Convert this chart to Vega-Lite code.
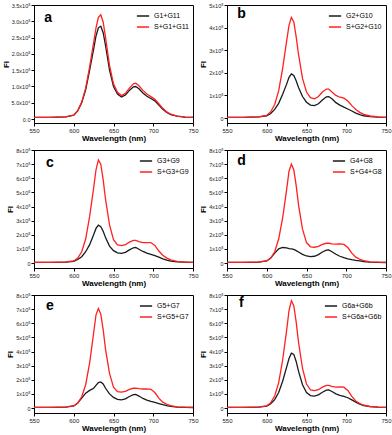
{
"$schema":"https://vega.github.io/schema/vega-lite/v6.json",
"padding":{"left":1,"top":2,"right":0,"bottom":0},
"background":"white",
"datasets":{"d":[
{"p":"a","wl":550,"k":5000,"r":5000},{"p":"a","wl":570,"k":5000,"r":5000},{"p":"a","wl":590,"k":7000,"r":7000},{"p":"a","wl":600,"k":12000,"r":12000},{"p":"a","wl":605,"k":25000,"r":26000},{"p":"a","wl":610,"k":50000,"r":52000},{"p":"a","wl":615,"k":90000,"r":95000},{"p":"a","wl":620,"k":150000,"r":160000},{"p":"a","wl":625,"k":215000,"r":235000},{"p":"a","wl":628,"k":255000,"r":280000},{"p":"a","wl":631,"k":280000,"r":312000},{"p":"a","wl":634,"k":285000,"r":320000},{"p":"a","wl":637,"k":265000,"r":298000},{"p":"a","wl":640,"k":225000,"r":250000},{"p":"a","wl":645,"k":150000,"r":165000},{"p":"a","wl":650,"k":100000,"r":108000},{"p":"a","wl":655,"k":77000,"r":82000},{"p":"a","wl":660,"k":68000,"r":72000},{"p":"a","wl":665,"k":74000,"r":79000},{"p":"a","wl":670,"k":88000,"r":95000},{"p":"a","wl":675,"k":99000,"r":108000},{"p":"a","wl":678,"k":100000,"r":110000},{"p":"a","wl":682,"k":93000,"r":102000},{"p":"a","wl":687,"k":80000,"r":88000},{"p":"a","wl":692,"k":70000,"r":77000},{"p":"a","wl":697,"k":63000,"r":69000},{"p":"a","wl":702,"k":56000,"r":61000},{"p":"a","wl":707,"k":43000,"r":47000},{"p":"a","wl":712,"k":30000,"r":33000},{"p":"a","wl":717,"k":20000,"r":22000},{"p":"a","wl":722,"k":14000,"r":15000},{"p":"a","wl":730,"k":9000,"r":9000},{"p":"a","wl":740,"k":6000,"r":6000},{"p":"a","wl":750,"k":5000,"r":5000},
{"p":"b","wl":550,"k":3000,"r":3000},{"p":"b","wl":570,"k":3000,"r":3000},{"p":"b","wl":590,"k":5000,"r":5000},{"p":"b","wl":600,"k":10000,"r":12000},{"p":"b","wl":605,"k":20000,"r":28000},{"p":"b","wl":610,"k":38000,"r":60000},{"p":"b","wl":615,"k":65000,"r":120000},{"p":"b","wl":620,"k":105000,"r":220000},{"p":"b","wl":625,"k":150000,"r":340000},{"p":"b","wl":628,"k":180000,"r":410000},{"p":"b","wl":631,"k":195000,"r":445000},{"p":"b","wl":634,"k":188000,"r":425000},{"p":"b","wl":637,"k":165000,"r":360000},{"p":"b","wl":640,"k":135000,"r":280000},{"p":"b","wl":645,"k":95000,"r":175000},{"p":"b","wl":650,"k":70000,"r":115000},{"p":"b","wl":655,"k":57000,"r":90000},{"p":"b","wl":660,"k":55000,"r":85000},{"p":"b","wl":665,"k":63000,"r":95000},{"p":"b","wl":670,"k":80000,"r":115000},{"p":"b","wl":675,"k":94000,"r":128000},{"p":"b","wl":678,"k":95000,"r":128000},{"p":"b","wl":682,"k":85000,"r":115000},{"p":"b","wl":687,"k":68000,"r":100000},{"p":"b","wl":692,"k":57000,"r":92000},{"p":"b","wl":697,"k":48000,"r":88000},{"p":"b","wl":702,"k":40000,"r":75000},{"p":"b","wl":707,"k":31000,"r":55000},{"p":"b","wl":712,"k":22000,"r":38000},{"p":"b","wl":717,"k":15000,"r":25000},{"p":"b","wl":722,"k":10000,"r":16000},{"p":"b","wl":730,"k":6000,"r":9000},{"p":"b","wl":740,"k":4000,"r":5000},{"p":"b","wl":750,"k":3000,"r":3000},
{"p":"c","wl":550,"k":5000,"r":5000},{"p":"c","wl":570,"k":5000,"r":5000},{"p":"c","wl":590,"k":7000,"r":8000},{"p":"c","wl":600,"k":12000,"r":15000},{"p":"c","wl":605,"k":25000,"r":35000},{"p":"c","wl":610,"k":45000,"r":80000},{"p":"c","wl":615,"k":80000,"r":170000},{"p":"c","wl":620,"k":130000,"r":330000},{"p":"c","wl":625,"k":200000,"r":530000},{"p":"c","wl":628,"k":245000,"r":660000},{"p":"c","wl":631,"k":268000,"r":730000},{"p":"c","wl":634,"k":258000,"r":700000},{"p":"c","wl":637,"k":225000,"r":590000},{"p":"c","wl":640,"k":180000,"r":450000},{"p":"c","wl":645,"k":120000,"r":270000},{"p":"c","wl":650,"k":88000,"r":165000},{"p":"c","wl":655,"k":72000,"r":128000},{"p":"c","wl":660,"k":68000,"r":123000},{"p":"c","wl":665,"k":76000,"r":130000},{"p":"c","wl":670,"k":93000,"r":148000},{"p":"c","wl":675,"k":108000,"r":160000},{"p":"c","wl":678,"k":110000,"r":160000},{"p":"c","wl":682,"k":98000,"r":152000},{"p":"c","wl":687,"k":82000,"r":145000},{"p":"c","wl":692,"k":70000,"r":145000},{"p":"c","wl":697,"k":62000,"r":145000},{"p":"c","wl":702,"k":53000,"r":125000},{"p":"c","wl":707,"k":42000,"r":85000},{"p":"c","wl":712,"k":30000,"r":55000},{"p":"c","wl":717,"k":20000,"r":35000},{"p":"c","wl":722,"k":13000,"r":22000},{"p":"c","wl":730,"k":8000,"r":12000},{"p":"c","wl":740,"k":6000,"r":7000},{"p":"c","wl":750,"k":5000,"r":5000},
{"p":"d","wl":550,"k":5000,"r":5000},{"p":"d","wl":570,"k":5000,"r":5000},{"p":"d","wl":590,"k":7000,"r":8000},{"p":"d","wl":600,"k":15000,"r":15000},{"p":"d","wl":605,"k":35000,"r":35000},{"p":"d","wl":610,"k":70000,"r":80000},{"p":"d","wl":615,"k":100000,"r":170000},{"p":"d","wl":620,"k":110000,"r":320000},{"p":"d","wl":625,"k":108000,"r":520000},{"p":"d","wl":628,"k":102000,"r":650000},{"p":"d","wl":631,"k":100000,"r":700000},{"p":"d","wl":634,"k":96000,"r":660000},{"p":"d","wl":637,"k":88000,"r":550000},{"p":"d","wl":640,"k":78000,"r":410000},{"p":"d","wl":645,"k":62000,"r":240000},{"p":"d","wl":650,"k":50000,"r":145000},{"p":"d","wl":655,"k":45000,"r":115000},{"p":"d","wl":660,"k":48000,"r":112000},{"p":"d","wl":665,"k":60000,"r":118000},{"p":"d","wl":670,"k":78000,"r":132000},{"p":"d","wl":675,"k":92000,"r":140000},{"p":"d","wl":678,"k":93000,"r":140000},{"p":"d","wl":682,"k":80000,"r":136000},{"p":"d","wl":687,"k":62000,"r":134000},{"p":"d","wl":692,"k":48000,"r":135000},{"p":"d","wl":697,"k":38000,"r":132000},{"p":"d","wl":702,"k":30000,"r":110000},{"p":"d","wl":707,"k":24000,"r":70000},{"p":"d","wl":712,"k":19000,"r":42000},{"p":"d","wl":717,"k":15000,"r":27000},{"p":"d","wl":722,"k":11000,"r":17000},{"p":"d","wl":730,"k":7000,"r":9000},{"p":"d","wl":740,"k":5000,"r":6000},{"p":"d","wl":750,"k":4000,"r":5000},
{"p":"e","wl":550,"k":5000,"r":5000},{"p":"e","wl":570,"k":5000,"r":5000},{"p":"e","wl":590,"k":7000,"r":8000},{"p":"e","wl":600,"k":15000,"r":15000},{"p":"e","wl":605,"k":35000,"r":35000},{"p":"e","wl":610,"k":70000,"r":80000},{"p":"e","wl":615,"k":105000,"r":165000},{"p":"e","wl":620,"k":125000,"r":320000},{"p":"e","wl":625,"k":140000,"r":530000},{"p":"e","wl":628,"k":160000,"r":660000},{"p":"e","wl":631,"k":180000,"r":705000},{"p":"e","wl":634,"k":185000,"r":665000},{"p":"e","wl":637,"k":170000,"r":555000},{"p":"e","wl":640,"k":140000,"r":415000},{"p":"e","wl":645,"k":100000,"r":245000},{"p":"e","wl":650,"k":75000,"r":148000},{"p":"e","wl":655,"k":62000,"r":116000},{"p":"e","wl":660,"k":58000,"r":113000},{"p":"e","wl":665,"k":65000,"r":118000},{"p":"e","wl":670,"k":82000,"r":132000},{"p":"e","wl":675,"k":95000,"r":140000},{"p":"e","wl":678,"k":96000,"r":141000},{"p":"e","wl":682,"k":85000,"r":137000},{"p":"e","wl":687,"k":68000,"r":135000},{"p":"e","wl":692,"k":56000,"r":135000},{"p":"e","wl":697,"k":47000,"r":133000},{"p":"e","wl":702,"k":40000,"r":110000},{"p":"e","wl":707,"k":32000,"r":70000},{"p":"e","wl":712,"k":24000,"r":42000},{"p":"e","wl":717,"k":17000,"r":27000},{"p":"e","wl":722,"k":12000,"r":17000},{"p":"e","wl":730,"k":7000,"r":9000},{"p":"e","wl":740,"k":5000,"r":6000},{"p":"e","wl":750,"k":4000,"r":5000},
{"p":"f","wl":550,"k":5000,"r":5000},{"p":"f","wl":570,"k":5000,"r":5000},{"p":"f","wl":590,"k":7000,"r":8000},{"p":"f","wl":600,"k":14000,"r":16000},{"p":"f","wl":605,"k":30000,"r":38000},{"p":"f","wl":610,"k":60000,"r":85000},{"p":"f","wl":615,"k":110000,"r":180000},{"p":"f","wl":620,"k":190000,"r":340000},{"p":"f","wl":625,"k":290000,"r":550000},{"p":"f","wl":628,"k":350000,"r":690000},{"p":"f","wl":631,"k":388000,"r":760000},{"p":"f","wl":634,"k":380000,"r":725000},{"p":"f","wl":637,"k":330000,"r":610000},{"p":"f","wl":640,"k":260000,"r":465000},{"p":"f","wl":645,"k":165000,"r":280000},{"p":"f","wl":650,"k":110000,"r":170000},{"p":"f","wl":655,"k":88000,"r":128000},{"p":"f","wl":660,"k":85000,"r":123000},{"p":"f","wl":665,"k":93000,"r":130000},{"p":"f","wl":670,"k":112000,"r":148000},{"p":"f","wl":675,"k":127000,"r":160000},{"p":"f","wl":678,"k":128000,"r":160000},{"p":"f","wl":682,"k":117000,"r":153000},{"p":"f","wl":687,"k":100000,"r":148000},{"p":"f","wl":692,"k":90000,"r":150000},{"p":"f","wl":697,"k":82000,"r":148000},{"p":"f","wl":702,"k":73000,"r":125000},{"p":"f","wl":707,"k":58000,"r":82000},{"p":"f","wl":712,"k":42000,"r":50000},{"p":"f","wl":717,"k":28000,"r":32000},{"p":"f","wl":722,"k":18000,"r":20000},{"p":"f","wl":730,"k":10000,"r":11000},{"p":"f","wl":740,"k":6000,"r":7000},{"p":"f","wl":750,"k":5000,"r":5000}
]},
"columns":2,
"spacing":{"row":4,"column":0},
"resolve":{"scale":{"x":"independent","y":"independent","color":"independent"},"legend":{"color":"independent"},"axis":{"x":"independent","y":"independent"}},
"concat":[
{"width":159,"height":118,"layer":[
 {"data":{"name":"d"},"transform":[{"filter":"datum.p=='a'"},{"fold":["k","r"],"as":["s","fi"]}],
  "mark":{"type":"line","strokeWidth":1.3},
  "encoding":{
   "x":{"field":"wl","type":"quantitative","scale":{"domain":[550,750],"nice":false},"axis":{"values":[550,600,650,700,750],"tickCount":20,"labelOverlap":false,"title":"Wavelength (nm)"}},
   "y":{"field":"fi","type":"quantitative","scale":{"domain":[-12000,350000],"nice":false,"zero":false},"axis":{"values":[0,50000,100000,150000,200000,250000,300000,350000],"tickCount":20,"labelOverlap":false,"labelExpr":"datum.value==0?'0.0':(datum.value<100000?format(datum.value/10000,'.1f')+'x10⁴':format(datum.value/100000,'.1f')+'x10⁵')","title":"FI"}},
   "color":{"field":"s","type":"nominal","scale":{"domain":["k","r"],"range":["#1a1a1a","#ff2020"]},"legend":{"title":null,"labelExpr":"datum.label=='k'?'G1+G11':'S+G1+G11'"}}}},
 {"data":{"values":[{"t":"a","x":563,"y":310000}]},"mark":{"type":"text","fontSize":14,"fontWeight":"bold","baseline":"middle","align":"left"},"encoding":{"x":{"field":"x","type":"quantitative"},"y":{"field":"y","type":"quantitative"},"text":{"field":"t"}}}
]},
{"width":159,"height":118,"layer":[
 {"data":{"name":"d"},"transform":[{"filter":"datum.p=='b'"},{"fold":["k","r"],"as":["s","fi"]}],
  "mark":{"type":"line","strokeWidth":1.3},
  "encoding":{
   "x":{"field":"wl","type":"quantitative","scale":{"domain":[550,750],"nice":false},"axis":{"values":[550,600,650,700,750],"tickCount":20,"labelOverlap":false,"title":"Wavelength (nm)"}},
   "y":{"field":"fi","type":"quantitative","scale":{"domain":[-22000,500000],"nice":false,"zero":false},"axis":{"values":[0,100000,200000,300000,400000,500000],"tickCount":20,"labelOverlap":false,"labelExpr":"datum.value==0?'0':format(datum.value/100000,'d')+'x10⁵'","title":"FI"}},
   "color":{"field":"s","type":"nominal","scale":{"domain":["k","r"],"range":["#1a1a1a","#ff2020"]},"legend":{"title":null,"labelExpr":"datum.label=='k'?'G2+G10':'S+G2+G10'"}}}},
 {"data":{"values":[{"t":"b","x":563,"y":460000}]},"mark":{"type":"text","fontSize":14,"fontWeight":"bold","baseline":"middle","align":"left"},"encoding":{"x":{"field":"x","type":"quantitative"},"y":{"field":"y","type":"quantitative"},"text":{"field":"t"}}}
]},
{"width":159,"height":118,"layer":[
 {"data":{"name":"d"},"transform":[{"filter":"datum.p=='c'"},{"fold":["k","r"],"as":["s","fi"]}],
  "mark":{"type":"line","strokeWidth":1.3},
  "encoding":{
   "x":{"field":"wl","type":"quantitative","scale":{"domain":[550,750],"nice":false},"axis":{"values":[550,600,650,700,750],"tickCount":20,"labelOverlap":false,"title":"Wavelength (nm)"}},
   "y":{"field":"fi","type":"quantitative","scale":{"domain":[-35000,800000],"nice":false,"zero":false},"axis":{"values":[0,100000,200000,300000,400000,500000,600000,700000,800000],"tickCount":20,"labelOverlap":false,"labelExpr":"datum.value==0?'0':format(datum.value/100000,'d')+'x10⁵'","title":"FI"}},
   "color":{"field":"s","type":"nominal","scale":{"domain":["k","r"],"range":["#1a1a1a","#ff2020"]},"legend":{"title":null,"labelExpr":"datum.label=='k'?'G3+G9':'S+G3+G9'"}}}},
 {"data":{"values":[{"t":"c","x":565,"y":710000}]},"mark":{"type":"text","fontSize":14,"fontWeight":"bold","baseline":"middle","align":"left"},"encoding":{"x":{"field":"x","type":"quantitative"},"y":{"field":"y","type":"quantitative"},"text":{"field":"t"}}}
]},
{"width":159,"height":118,"layer":[
 {"data":{"name":"d"},"transform":[{"filter":"datum.p=='d'"},{"fold":["k","r"],"as":["s","fi"]}],
  "mark":{"type":"line","strokeWidth":1.3},
  "encoding":{
   "x":{"field":"wl","type":"quantitative","scale":{"domain":[550,750],"nice":false},"axis":{"values":[550,600,650,700,750],"tickCount":20,"labelOverlap":false,"title":"Wavelength (nm)"}},
   "y":{"field":"fi","type":"quantitative","scale":{"domain":[-35000,800000],"nice":false,"zero":false},"axis":{"values":[0,100000,200000,300000,400000,500000,600000,700000,800000],"tickCount":20,"labelOverlap":false,"labelExpr":"datum.value==0?'0':format(datum.value/100000,'d')+'x10⁵'","title":"FI"}},
   "color":{"field":"s","type":"nominal","scale":{"domain":["k","r"],"range":["#1a1a1a","#ff2020"]},"legend":{"title":null,"labelExpr":"datum.label=='k'?'G4+G8':'S+G4+G8'"}}}},
 {"data":{"values":[{"t":"d","x":563,"y":720000}]},"mark":{"type":"text","fontSize":14,"fontWeight":"bold","baseline":"middle","align":"left"},"encoding":{"x":{"field":"x","type":"quantitative"},"y":{"field":"y","type":"quantitative"},"text":{"field":"t"}}}
]},
{"width":159,"height":118,"layer":[
 {"data":{"name":"d"},"transform":[{"filter":"datum.p=='e'"},{"fold":["k","r"],"as":["s","fi"]}],
  "mark":{"type":"line","strokeWidth":1.3},
  "encoding":{
   "x":{"field":"wl","type":"quantitative","scale":{"domain":[550,750],"nice":false},"axis":{"values":[550,600,650,700,750],"tickCount":20,"labelOverlap":false,"title":"Wavelength (nm)"}},
   "y":{"field":"fi","type":"quantitative","scale":{"domain":[-35000,800000],"nice":false,"zero":false},"axis":{"values":[0,100000,200000,300000,400000,500000,600000,700000,800000],"tickCount":20,"labelOverlap":false,"labelExpr":"datum.value==0?'0':format(datum.value/100000,'d')+'x10⁵'","title":"FI"}},
   "color":{"field":"s","type":"nominal","scale":{"domain":["k","r"],"range":["#1a1a1a","#ff2020"]},"legend":{"title":null,"labelExpr":"datum.label=='k'?'G5+G7':'S+G5+G7'"}}}},
 {"data":{"values":[{"t":"e","x":565,"y":720000}]},"mark":{"type":"text","fontSize":14,"fontWeight":"bold","baseline":"middle","align":"left"},"encoding":{"x":{"field":"x","type":"quantitative"},"y":{"field":"y","type":"quantitative"},"text":{"field":"t"}}}
]},
{"width":159,"height":118,"layer":[
 {"data":{"name":"d"},"transform":[{"filter":"datum.p=='f'"},{"fold":["k","r"],"as":["s","fi"]}],
  "mark":{"type":"line","strokeWidth":1.3},
  "encoding":{
   "x":{"field":"wl","type":"quantitative","scale":{"domain":[550,750],"nice":false},"axis":{"values":[550,600,650,700,750],"tickCount":20,"labelOverlap":false,"title":"Wavelength (nm)"}},
   "y":{"field":"fi","type":"quantitative","scale":{"domain":[-35000,800000],"nice":false,"zero":false},"axis":{"values":[0,100000,200000,300000,400000,500000,600000,700000,800000],"tickCount":20,"labelOverlap":false,"labelExpr":"datum.value==0?'0':format(datum.value/100000,'d')+'x10⁵'","title":"FI"}},
   "color":{"field":"s","type":"nominal","scale":{"domain":["k","r"],"range":["#1a1a1a","#ff2020"]},"legend":{"title":null,"labelExpr":"datum.label=='k'?'G6a+G6b':'S+G6a+G6b'"}}}},
 {"data":{"values":[{"t":"f","x":565,"y":740000}]},"mark":{"type":"text","fontSize":14,"fontWeight":"bold","baseline":"middle","align":"left"},"encoding":{"x":{"field":"x","type":"quantitative"},"y":{"field":"y","type":"quantitative"},"text":{"field":"t"}}}
]}
],
"config":{
 "font":"Liberation Sans",
 "view":{"stroke":"#000","strokeWidth":1},
 "axis":{"grid":false,"domainColor":"#000","tickColor":"#000","tickSize":3,"labelFontSize":6,"labelColor":"#222","titleFontSize":8,"titleFontWeight":"bold","titleColor":"#000","labelPadding":1,"titlePadding":1,"labelOverlap":false,"labelFlush":false},
 "axisY":{"labelFontSize":5.5},
 "legend":{"orient":"top-right","offset":4,"symbolType":"stroke","symbolSize":150,"symbolStrokeWidth":1.5,"labelFontSize":7,"rowPadding":1,"padding":0,"labelColor":"#000","labelLimit":100}
}
}
